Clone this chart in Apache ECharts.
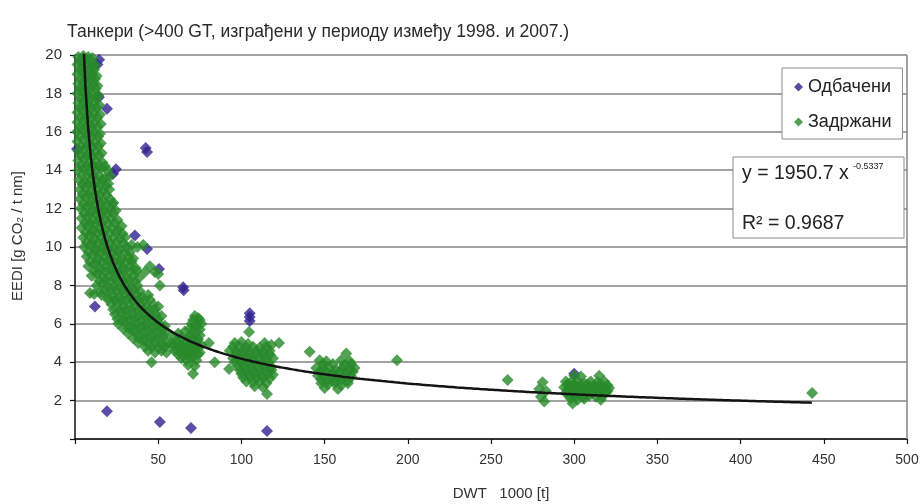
<!DOCTYPE html>
<html>
<head>
<meta charset="utf-8">
<script src="https://cdn.jsdelivr.net/npm/echarts@6/dist/echarts.min.js"></script>
<style>
  html, body { margin: 0; padding: 0; background: #fff; }
  #chart { width: 924px; height: 504px; }
</style>
</head>
<body>
<div id="chart"></div>
<script>
// Tankers (>400 GT, built 1998-2007): EEDI versus deadweight (thousand t)

const xTicks = [0, 50, 100, 150, 200, 250, 300, 350, 400, 450, 500];
const yTicks = [0, 2, 4, 6, 8, 10, 12, 14, 16, 18, 20];

// Discarded ships [DWT 1000 t, EEDI]
const discarded = [
  [1.2, 15.1], [13.5, 19.5], [14.5, 19.75], [14.4, 17.8], [19.2, 17.2],
  [42.5, 15.15], [43.3, 14.95], [24.6, 14.05], [22.8, 13.8], [36, 10.6],
  [43.3, 9.9], [50.5, 8.85], [65, 7.9], [65.3, 7.75], [12, 6.9],
  [19.2, 1.45], [51, 0.89], [69.7, 0.57], [115.4, 0.42],
  [105, 6.55], [105, 6.35], [105, 6.15], [300, 3.4]
];

// Retained ships [DWT 1000 t, EEDI]
const retained = [
  // small tankers, steep band
  [2, 19.9], [5, 19.95], [8, 19.9], [10.5, 19.85],
  [3.5, 19.75], [6.5, 19.75], [9, 19.7],
  [1.5, 19.5], [4, 19.6], [7, 19.5], [10, 19.4], [12, 19.5],
  [3, 19.25], [6, 19.25], [9, 19.2], [11.5, 19.25],
  [1.5, 19.0], [4.5, 19.1], [7.5, 18.9], [10.5, 19.0], [13, 18.9],
  [3.5, 18.75], [6.5, 18.75], [9.5, 18.7], [12, 18.75],
  [2, 18.5], [5, 18.6], [8, 18.4], [11, 18.5], [13.5, 18.4],
  [3, 18.25], [6, 18.25], [9, 18.2], [12.5, 18.25],
  [1.5, 18.0], [4.5, 18.1], [7.5, 17.9], [10.5, 18.0], [14, 17.9],
  [3.5, 17.75], [6.5, 17.75], [9.5, 17.7], [13, 17.75],
  [2, 17.5], [5, 17.6], [8, 17.4], [11, 17.5], [14.5, 17.4],
  [3, 17.25], [6.5, 17.25], [9.5, 17.2], [13, 17.25],
  [1.5, 17.0], [4.5, 17.1], [8, 16.9], [11.5, 17.0], [15, 16.9],
  [3, 16.75], [6.5, 16.75], [10, 16.7], [13.5, 16.75],
  [1.5, 16.5], [5, 16.6], [8.5, 16.4], [12, 16.5], [15.5, 16.4],
  [3, 16.25], [6.5, 16.25], [10, 16.2], [13.5, 16.25],
  [1.2, 16.0], [4.5, 16.1], [8, 15.9], [11.5, 16.0], [15, 15.9],
  [3, 15.75], [7, 15.75], [10, 15.7], [14, 15.75],
  [1.5, 15.5], [5, 15.6], [8.5, 15.4], [12, 15.5], [15.5, 15.4],
  [3.5, 15.25], [7, 15.25], [10.5, 15.2], [14, 15.25],
  [2, 15.0], [5.5, 15.1], [9, 14.9], [12.5, 15.0], [16, 14.9],
  [3.5, 14.75], [7, 14.75], [10.5, 14.7], [14.5, 14.75],
  [2, 14.5], [5.5, 14.6], [9, 14.4], [12.5, 14.5], [16.5, 14.4],
  [3.5, 14.25], [7, 14.25], [11, 14.2], [14.5, 14.25], [18, 14.2],
  [2, 14.0], [5.5, 14.1], [9, 13.9], [12.5, 14.0], [16, 14.1], [19.5, 14.0],
  [4, 13.75], [7.5, 13.75], [11, 13.7],
  [14.5, 13.7], [18, 13.6], [21, 13.7],
  [2.5, 13.5], [6, 13.4], [9.5, 13.5], [13, 13.4], [16.5, 13.5], [20, 13.3],
  [4.5, 13.25], [8, 13.25], [11.5, 13.2], [15, 13.25], [18.5, 13.2],
  [3, 13.0], [6.5, 13.1], [10, 12.9], [13.5, 13.0], [17, 12.9], [20.5, 13.0],
  [4.5, 12.75], [8, 12.75], [11.5, 12.7], [15, 12.75], [19, 12.7],
  [3, 12.5], [6.5, 12.6], [10, 12.4], [13.5, 12.5], [17, 12.4], [21, 12.5], [23, 12.3],
  [5, 12.25], [8.5, 12.25], [12, 12.2], [15.5, 12.25], [19, 12.2], [22.5, 12.25],
  [3.5, 12.0], [7, 12.1], [10.5, 11.9], [14, 12.0], [17.5, 11.9], [21, 12.0], [24.5, 11.9],
  [5.5, 11.75], [9, 11.75], [12.5, 11.7], [16, 11.75], [19.5, 11.7], [23, 11.75],
  [4, 11.5], [7.5, 11.6], [11, 11.4], [14.5, 11.5], [18, 11.4], [21.5, 11.5], [25.5, 11.4],
  [6, 11.25], [9, 11.25], [12.5, 11.2], [16, 11.25], [20, 11.2], [24, 11.25],
  [4, 11.0], [7.5, 11.1], [11, 10.9], [14.5, 11.0], [18, 10.9], [22, 11.0], [26, 10.9], [28, 11.1],
  [6.5, 10.75], [10, 10.75], [13.5, 10.7], [17, 10.75], [21, 10.7], [25, 10.75], [28.5, 10.7],
  [5, 10.5], [8.5, 10.6], [12, 10.4], [15.5, 10.5], [19, 10.4], [23, 10.5], [27, 10.4], [30, 10.5],
  [7, 10.25], [10.5, 10.25], [14, 10.2], [17.5, 10.25], [21, 10.2], [25, 10.25], [29, 10.2],
  [5.5, 10.0], [9, 10.1], [12.5, 9.9], [16, 10.0], [19.5, 9.9], [23, 10.0], [27, 9.9], [31, 10.0],
  [34, 10.1], [37.5, 10.0], [41, 10.1],
  [8, 9.75], [12, 9.75], [15.5, 9.7], [19, 9.75], [22.5, 9.7], [26, 9.75], [30, 9.7], [33, 9.75],
  [7, 9.5], [10.5, 9.6], [14, 9.4], [17.5, 9.5], [21, 9.4], [24.5, 9.5], [28, 9.4], [32, 9.5], [35, 9.4],
  [9, 9.25], [13, 9.25], [16.5, 9.2], [20, 9.25], [23.5, 9.2], [27, 9.25], [30.5, 9.2], [34, 9.25],
  [8, 9.0], [11.5, 9.1], [15, 8.9], [18.5, 9.0], [22, 8.9], [25.5, 9.0], [29, 8.9], [33, 9.0], [36.5, 8.9], [45, 9.0],
  [11.5, 8.75], [15, 8.75], [18.5, 8.7], [22, 8.75], [25.5, 8.7], [29, 8.75], [33, 8.7], [37, 8.75],
  [42, 8.7], [48, 8.7], [50, 8.6],
  [10, 8.5], [13.5, 8.6], [17, 8.4], [20.5, 8.5], [24, 8.4], [27.5, 8.5], [31, 8.4], [35, 8.5], [38.5, 8.4],
  [14.5, 8.25], [18, 8.25], [21.5, 8.2], [25, 8.25], [29, 8.2], [32.5, 8.25], [36, 8.2],
  [13, 8.0], [16.5, 8.1], [20, 7.9], [23.5, 8.0], [27, 7.9], [30.5, 8.0], [34, 7.9], [37.5, 8.0], [51, 8.0],
  [18, 7.75], [21.5, 7.75], [25, 7.7], [28.5, 7.75], [32, 7.7], [35.5, 7.75], [39, 7.7],
  [9, 7.6], [11.5, 7.55], [15, 7.65],
  [16, 7.5], [19.5, 7.4], [23, 7.5], [26.5, 7.4], [30, 7.5], [33.5, 7.4], [37, 7.5], [40.5, 7.4], [44, 7.5],
  [20, 7.25], [24, 7.25], [27.5, 7.2], [31, 7.25], [34.5, 7.2], [38, 7.25], [41.5, 7.2], [45, 7.25],
  [22, 7.0], [25.5, 7.1], [29, 6.9], [32.5, 7.0], [36, 6.9], [39.5, 7.0], [43, 6.9], [47, 7.0], [50, 6.9],
  [23, 6.75], [27, 6.75], [30.5, 6.7], [34, 6.75], [37.5, 6.7], [41, 6.75], [44.5, 6.7], [48, 6.75],
  [24, 6.5], [27.5, 6.6], [31, 6.4], [34.5, 6.5], [38, 6.4], [41.5, 6.5], [45, 6.4], [48.5, 6.5], [52, 6.4],
  [25.5, 6.25], [29, 6.25], [32.5, 6.2], [36, 6.25], [39.5, 6.2], [43, 6.25], [46.5, 6.2], [50, 6.25],
  [26, 6.0], [29.5, 6.1], [33, 5.9], [36.5, 6.0], [40, 5.9], [43.5, 6.0], [47, 5.9], [50.5, 6.0], [54, 5.9],
  [29, 5.75], [32.5, 5.75], [36, 5.7], [39.5, 5.75], [43, 5.7], [46.5, 5.75], [50, 5.7], [53, 5.75],
  [32, 5.5], [35.5, 5.6], [39, 5.4], [42.5, 5.5], [46, 5.4], [49.5, 5.5], [53, 5.4], [56, 5.5],
  [35, 5.25], [38.5, 5.25], [42, 5.2], [45.5, 5.25], [49, 5.2], [52.5, 5.25],
  [38, 5.0], [41.5, 5.1], [45, 4.9], [48.5, 5.0], [52, 4.9], [55.5, 5.0],
  [42, 4.8], [46, 4.8], [50, 4.75], [54, 4.8],
  [44, 4.6], [48, 4.5], [52, 4.6], [55, 4.5],
  [46, 4.0],
  // 60-80 thousand t group
  [72, 6.4], [74, 6.3],
  [71, 6.2], [75, 6.2],
  [70, 6.0], [73, 5.9], [76, 6.0],
  [69, 5.75], [72, 5.75], [75, 5.7],
  [62, 5.5], [66, 5.6], [69, 5.4], [72, 5.5], [75, 5.4],
  [60, 5.25], [64, 5.25], [68, 5.2], [71, 5.25], [74, 5.2],
  [58, 5.0], [61, 5.1], [64, 4.9], [67, 5.0], [70, 4.9], [73, 5.0], [76, 4.9],
  [59, 4.8], [62, 4.8], [65, 4.75], [68, 4.8], [71, 4.75], [74, 4.8],
  [60, 4.6], [63, 4.5], [66, 4.6], [69, 4.5], [72, 4.6], [75, 4.5],
  [62, 4.4], [65, 4.35], [68, 4.4], [71, 4.35], [74, 4.4],
  [64, 4.2], [67, 4.1], [70, 4.2], [73, 4.1],
  [68, 3.85], [72, 3.8],
  [71, 3.4], [80.5, 5.0], [84, 4.0], [92.6, 3.65],
  // 95-120 thousand t group
  [96, 5.0], [100, 5.05], [104, 4.95], [114, 5.0], [118, 4.9],
  [95, 4.8], [99, 4.8], [103, 4.75], [107, 4.8], [111, 4.75], [115, 4.8],
  [93, 4.6], [97, 4.55], [101, 4.6], [105, 4.5], [109, 4.6], [113, 4.55], [117, 4.6],
  [97, 4.4], [101, 4.4], [105, 4.35], [109, 4.4], [113, 4.35], [117, 4.4],
  [95, 4.2], [99, 4.15], [103, 4.2], [107, 4.1], [111, 4.2], [115, 4.15], [119, 4.2],
  [96, 4.0], [100, 4.0], [104, 3.95], [108, 4.0], [112, 3.95], [116, 4.0],
  [98, 3.8], [102, 3.75], [106, 3.8], [110, 3.7], [114, 3.8], [118, 3.75],
  [99, 3.6], [103, 3.6], [107, 3.55], [111, 3.6], [115, 3.55], [118, 3.6],
  [100, 3.4], [104, 3.35], [108, 3.4], [112, 3.3], [116, 3.4], [119, 3.35],
  [101, 3.2], [105, 3.2], [109, 3.15], [113, 3.2], [117, 3.15],
  [103, 3.0], [107, 2.95], [111, 3.0], [115, 2.9],
  [108, 2.75], [113, 2.7],
  [104.6, 5.57], [122.6, 5.0], [115.4, 2.35], [141, 4.55],
  // 145-170 thousand t group
  [163, 4.45],
  [147, 4.1], [151, 4.05], [160, 4.1], [165, 4.05],
  [149, 3.9], [155, 3.9], [162, 3.85], [166, 3.9],
  [145, 3.7], [149, 3.65], [153, 3.7], [157, 3.6], [161, 3.7], [165, 3.65], [168, 3.7],
  [147, 3.5], [151, 3.5], [155, 3.45], [159, 3.5], [163, 3.45], [167, 3.5],
  [146, 3.3], [150, 3.25], [154, 3.3], [158, 3.2], [162, 3.3], [166, 3.25],
  [148, 3.1], [152, 3.1], [156, 3.05], [160, 3.1], [164, 3.05],
  [148, 2.9], [152, 2.85], [156, 2.9], [160, 2.8], [164, 2.9],
  [150, 2.65], [158, 2.6],
  [193.5, 4.1], [260, 3.07],
  // VLCC
  [281, 2.95], [279, 2.6], [283, 2.5], [280, 2.2], [282, 1.95],
  [300, 3.3], [304, 3.25], [315, 3.3],
  [295, 3.0], [298, 2.95], [302, 3.0], [306, 2.9], [310, 3.0], [314, 2.95], [318, 3.0],
  [296, 2.85], [300, 2.85], [304, 2.8], [308, 2.85], [312, 2.8], [316, 2.85], [320, 2.8],
  [294, 2.7], [297, 2.65], [301, 2.7], [305, 2.6], [309, 2.7], [313, 2.65], [317, 2.7], [321, 2.65],
  [296, 2.55], [300, 2.55], [304, 2.5], [308, 2.55], [312, 2.5], [316, 2.55], [320, 2.5],
  [295, 2.4], [299, 2.35], [303, 2.4], [307, 2.3], [311, 2.4], [315, 2.35], [319, 2.4],
  [297, 2.25], [301, 2.25], [305, 2.2], [309, 2.25], [313, 2.2], [317, 2.25],
  [298, 2.1], [302, 2.05], [306, 2.1], [316, 2.05],
  [299, 1.85],
  [443, 2.4]
];

// Power-law regression as printed in the box: y = A * DWT^B (DWT in t)
const fitA = 1950.7;
const fitB = -0.5337;
const fitR2 = 0.9687;
const fitRange = [4.8, 443];

const fitLine = [];
for (let x = fitRange[0]; x <= fitRange[1]; x += 1.5) {
  fitLine.push([x, fitA * Math.pow(x * 1000, fitB)]);
}
fitLine.push([fitRange[1], fitA * Math.pow(fitRange[1] * 1000, fitB)]);

const textFont = '"Liberation Sans", Arial, sans-serif';
const purple = '#2f2290';
const green = '#288a2a';

const chart = echarts.init(document.getElementById('chart'), null, { renderer: 'canvas' });

chart.setOption({
  animation: false,
  backgroundColor: '#ffffff',
  textStyle: { fontFamily: textFont },
  title: {
    text: 'Танкери (>400 GT, изграђени у периоду између 1998. и 2007.)',
    left: 62, top: 18,
    textStyle: { fontSize: 17.5, fontWeight: 'normal', color: '#2a2a2a', fontFamily: textFont }
  },
  grid: { left: 75, right: 17, top: 55, bottom: 65, containLabel: false },
  legend: {
    orient: 'vertical',
    left: 782, top: 68,
    padding: [10, 11, 8, 12],
    itemGap: 17,
    itemWidth: 9, itemHeight: 9,
    backgroundColor: '#ffffff',
    borderColor: '#8a8a8a', borderWidth: 1,
    textStyle: { fontSize: 18, color: '#222', fontFamily: textFont },
    data: [
      { name: 'Одбачени', icon: 'diamond', itemStyle: { color: purple } },
      { name: 'Задржани', icon: 'diamond', itemStyle: { color: green } }
    ]
  },
  xAxis: {
    type: 'value',
    min: xTicks[0], max: xTicks[xTicks.length - 1], interval: 50,
    axisLine: { lineStyle: { color: '#111', width: 1.5 } },
    axisTick: { show: true, length: 5, lineStyle: { color: '#111', width: 1.2 } },
    axisLabel: {
      fontSize: 14, color: '#333', margin: 14,
      formatter: v => (v === 0 ? '' : String(v))
    },
    splitLine: { show: false }
  },
  yAxis: {
    type: 'value',
    min: yTicks[0], max: yTicks[yTicks.length - 1], interval: 2,
    axisLine: { show: true, lineStyle: { color: '#111', width: 1.5 } },
    axisTick: { show: true, length: 5, lineStyle: { color: '#111', width: 1.2 } },
    axisLabel: {
      fontSize: 15, color: '#333', margin: 13,
      formatter: v => (v === 0 ? '' : String(v))
    },
    splitLine: { show: true, lineStyle: { color: '#858585', width: 1.5 } }
  },
  series: [
    {
      name: 'Одбачени',
      type: 'scatter',
      symbol: 'diamond',
      symbolSize: 12,
      itemStyle: { color: purple },
      data: discarded,
      z: 2,
      markLine: {
        silent: true,
        symbol: 'none',
        label: { show: false },
        lineStyle: { color: '#858585', width: 1.5, type: 'solid' },
        data: [{ xAxis: xTicks[xTicks.length - 1] }]
      }
    },
    {
      name: 'Задржани',
      type: 'scatter',
      symbol: 'diamond',
      symbolSize: 12,
      itemStyle: { color: green },
      data: retained,
      z: 3
    },
    {
      name: 'fit',
      type: 'line',
      data: fitLine,
      showSymbol: false,
      smooth: false,
      clip: true,
      lineStyle: { color: '#141414', width: 2.5 },
      z: 4
    }
  ],
  graphic: [
    // axis titles
    {
      type: 'text',
      x: 18, y: 236,
      rotation: Math.PI / 2,
      z: 50,
      style: {
        text: 'EEDI [g CO₂ / t nm]',
        font: '15px ' + textFont, fill: '#333',
        textAlign: 'center', textVerticalAlign: 'middle'
      }
    },
    {
      type: 'text',
      x: 501, y: 494,
      z: 50,
      style: {
        text: 'DWT   1000 [t]',
        font: '15px ' + textFont, fill: '#333',
        textAlign: 'center', textVerticalAlign: 'middle'
      }
    },
    // regression box
    {
      type: 'rect',
      z: 100,
      shape: { x: 733, y: 157, width: 171, height: 81 },
      style: { fill: '#ffffff', stroke: '#8a8a8a', lineWidth: 1 }
    },
    {
      type: 'text',
      z: 101,
      x: 742, y: 174,
      style: {
        text: 'y = ' + fitA.toFixed(1) + ' x',
        font: '19.5px ' + textFont, fill: '#222', textVerticalAlign: 'middle'
      }
    },
    {
      type: 'text',
      z: 101,
      x: 853, y: 167,
      style: {
        text: fitB.toFixed(4),
        font: '9px ' + textFont, fill: '#222', textVerticalAlign: 'middle'
      }
    },
    {
      type: 'text',
      z: 101,
      x: 742, y: 224,
      style: {
        text: 'R² = ' + fitR2.toFixed(4),
        font: '19.5px ' + textFont, fill: '#222', textVerticalAlign: 'middle'
      }
    }
  ]
});
</script>
</body>
</html>
